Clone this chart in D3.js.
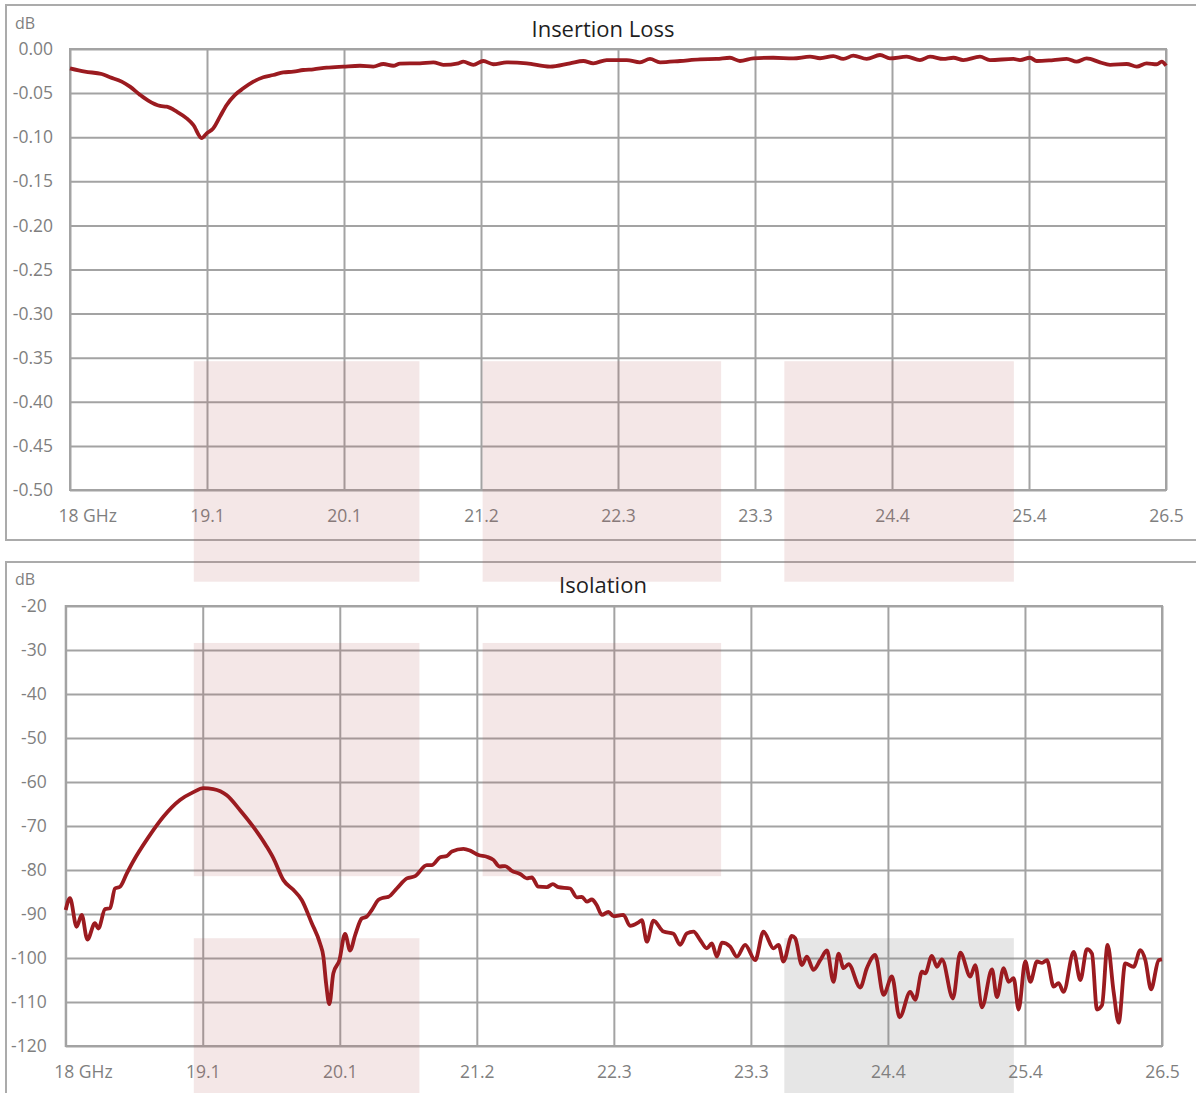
<!DOCTYPE html>
<html>
<head>
<meta charset="utf-8">
<script src="https://cdn.jsdelivr.net/npm/d3@7"></script>
<style>
  body { margin: 0; background: #fff; }
  svg { display: block; font-family: "Open Sans", sans-serif; }
</style>
</head>
<body>
<script>
// x ticks are shared by both charts
const xTickLabels = ["18 GHz", "19.1", "20.1", "21.2", "22.3", "23.3", "24.4", "25.4", "26.5"];
const ilTickLabels = ["0.00", "-0.05", "-0.10", "-0.15", "-0.20", "-0.25", "-0.30", "-0.35", "-0.40", "-0.45", "-0.50"];
const isoTickLabels = ["-20", "-30", "-40", "-50", "-60", "-70", "-80", "-90", "-100", "-110", "-120"];

// insertion loss (GHz / dB)
const ilFreq = [18.00, 18.116, 18.246, 18.310, 18.401, 18.465, 18.543, 18.607, 18.698, 18.750,
  18.828, 18.905, 18.956, 19.021, 19.060, 19.111, 19.163, 19.215, 19.280, 19.344,
  19.422, 19.499, 19.577, 19.654, 19.732, 19.809, 19.887, 19.991, 20.120, 20.249,
  20.352, 20.430, 20.507, 20.559, 20.714, 20.818, 20.895, 21.012, 21.050, 21.128,
  21.205, 21.283, 21.387, 21.542, 21.723, 21.878, 21.981, 22.058, 22.162, 22.317,
  22.420, 22.498, 22.576, 22.731, 22.886, 23.015, 23.118, 23.196, 23.299, 23.454,
  23.609, 23.739, 23.817, 23.920, 23.997, 24.075, 24.179, 24.282, 24.359, 24.489,
  24.592, 24.670, 24.773, 24.851, 24.928, 25.057, 25.135, 25.316, 25.368, 25.445,
  25.497, 25.626, 25.730, 25.807, 25.885, 25.988, 26.066, 26.195, 26.273, 26.350,
  26.428, 26.467, 26.50];
const ilDb = [-0.0219, -0.0257, -0.0283, -0.032, -0.037, -0.0427, -0.052, -0.0586, -0.0646, -0.0654,
  -0.071, -0.0786, -0.086, -0.101, -0.0956, -0.090, -0.0767, -0.0635, -0.052, -0.0446,
  -0.037, -0.032, -0.0295, -0.0265, -0.0257, -0.0238, -0.023, -0.0212, -0.020, -0.019,
  -0.020, -0.017, -0.019, -0.0166, -0.0162, -0.0151, -0.018, -0.0162, -0.0144, -0.018,
  -0.0136, -0.0173, -0.0151, -0.0162, -0.020, -0.0162, -0.0136, -0.0162, -0.0125, -0.0125,
  -0.0151, -0.0113, -0.0151, -0.0136, -0.0117, -0.0113, -0.0099, -0.0136, -0.0106, -0.0099,
  -0.0106, -0.0087, -0.0105, -0.008, -0.0113, -0.0076, -0.0113, -0.0068, -0.0106, -0.0087,
  -0.0125, -0.0087, -0.0113, -0.0099, -0.0125, -0.0087, -0.0125, -0.0113, -0.0125, -0.0099,
  -0.0136, -0.0125, -0.0113, -0.0144, -0.0106, -0.0151, -0.018, -0.017, -0.020, -0.0162,
  -0.0173, -0.0144, -0.019];

// isolation (GHz / dB)
const isoFreq = [18.000, 18.033, 18.085, 18.124, 18.168, 18.227, 18.253, 18.305, 18.344, 18.382,
  18.421, 18.473, 18.524, 18.638, 18.757, 18.886, 18.990, 19.067, 19.145, 19.249,
  19.352, 19.455, 19.559, 19.610, 19.688, 19.765, 19.830, 19.908, 19.972, 19.998,
  20.019, 20.044, 20.075, 20.122, 20.166, 20.205, 20.244, 20.296, 20.334, 20.373,
  20.424, 20.463, 20.502, 20.567, 20.645, 20.709, 20.800, 20.838, 20.903, 20.955,
  20.994, 21.084, 21.136, 21.200, 21.265, 21.316, 21.363, 21.407, 21.459, 21.523,
  21.575, 21.614, 21.665, 21.730, 21.777, 21.820, 21.911, 21.963, 22.002, 22.041,
  22.079, 22.118, 22.157, 22.208, 22.247, 22.324, 22.376, 22.441, 22.467, 22.506,
  22.557, 22.635, 22.712, 22.764, 22.816, 22.867, 22.919, 22.971, 23.010, 23.049,
  23.088, 23.152, 23.204, 23.268, 23.346, 23.410, 23.488, 23.527, 23.565, 23.630,
  23.656, 23.708, 23.747, 23.798, 23.850, 23.902, 23.953, 23.992, 24.031, 24.070,
  24.160, 24.212, 24.276, 24.341, 24.406, 24.465, 24.548, 24.587, 24.639, 24.664,
  24.716, 24.755, 24.794, 24.879, 24.936, 25.014, 25.052, 25.104, 25.182, 25.220,
  25.272, 25.311, 25.350, 25.388, 25.440, 25.479, 25.531, 25.570, 25.608, 25.660,
  25.698, 25.737, 25.815, 25.867, 25.918, 25.957, 25.996, 26.035, 26.078, 26.125,
  26.164, 26.215, 26.280, 26.332, 26.371, 26.415, 26.474, 26.500];
const isoDb = [-89.1, -86.4, -92.9, -90.2, -95.8, -92.1, -93.3, -88.9, -88.7, -84.2,
  -83.8, -80.8, -78.0, -72.7, -67.9, -64.1, -62.3, -61.4, -61.6, -63.0,
  -66.4, -70.2, -74.7, -77.3, -82.3, -84.5, -86.8, -92.1, -96.7, -99.7,
  -105.8, -110.5, -103.5, -100.5, -94.5, -98.3, -94.8, -91.0, -90.6, -89.1,
  -86.8, -86.3, -86.1, -84.2, -81.9, -81.4, -78.9, -78.9, -77.1, -76.8,
  -75.8, -75.2, -75.6, -76.6, -77.0, -77.7, -79.2, -79.1, -80.2, -80.9,
  -81.9, -81.7, -83.8, -83.9, -83.2, -83.9, -84.2, -86.2, -86.1, -87.2,
  -86.7, -88.0, -90.2, -89.5, -90.5, -90.2, -92.7, -91.9, -91.4, -96.3,
  -91.5, -94.0, -94.5, -97.0, -94.4, -94.0, -95.9, -97.8, -96.7, -99.7,
  -96.5, -97.4, -99.7, -97.0, -100.5, -94.0, -97.8, -97.0, -100.8, -95.0,
  -95.5, -101.6, -99.7, -102.7, -100.5, -98.3, -105.4, -99.0, -102.3, -101.4,
  -106.7, -102.3, -99.3, -108.4, -104.2, -113.5, -107.7, -109.5, -103.1, -103.5,
  -99.5, -102.0, -100.3, -109.2, -98.8, -104.2, -101.6, -111.2, -102.6, -108.9,
  -102.3, -105.4, -104.6, -111.7, -100.8, -105.4, -100.8, -101.1, -100.5, -106.5,
  -105.7, -107.7, -98.6, -105.0, -98.0, -99.0, -111.7, -110.7, -97.0, -107.7,
  -114.7, -101.2, -102.0, -98.2, -100.5, -107.1, -100.5, -100.3];

// highlighted bands: [fromGHz, toGHz, top dB, bottom dB, colour]
const ilBands = [[18.96, 20.71, -0.354, -0.604, "pink"], [21.20, 23.05, -0.354, -0.604, "pink"], [23.54, 25.32, -0.354, -0.604, "pink"]];
const isoBands = [[18.96, 20.71, -28.4, -81.4, "pink"], [21.20, 23.05, -28.4, -81.4, "pink"],
  [18.96, 20.71, -95.5, -132, "pink"], [23.54, 25.32, -95.5, -132, "grey"]];

const W = 1196, H = 1093;
const svg = d3.select("body").append("svg").attr("width", W).attr("height", H);

const gridColor = "#a3a3a3";
const textGrey = "#7f7f7f";
const lineColor = "#9b1b20";

const xTickVals = xTickLabels.map((d, i) => 18 + i * 8.5 / 8);

function drawPanel(cfg) {
  // outer box
  svg.append("rect")
    .attr("x", cfg.box[0]).attr("y", cfg.box[1])
    .attr("width", cfg.box[2]).attr("height", cfg.box[3])
    .attr("fill", "none").attr("stroke", "#ababab").attr("stroke-width", 2);

  const x = d3.scaleLinear().domain([18, 26.5]).range([cfg.left, cfg.right]);
  const y = d3.scaleLinear().domain(cfg.yDomain).range([cfg.bottom, cfg.top]);
  const yTickVals = cfg.yLabels.map((d, i) => cfg.yDomain[1] - i * (cfg.yDomain[1] - cfg.yDomain[0]) / (cfg.yLabels.length - 1));

  const gx = svg.append("g")
    .attr("transform", "translate(0," + cfg.bottom + ")")
    .call(d3.axisBottom(x).tickValues(xTickVals)
      .tickSize(-(cfg.bottom - cfg.top)).tickPadding(19)
      .tickFormat((d, i) => xTickLabels[i]));
  const gy = svg.append("g")
    .attr("transform", "translate(" + cfg.left + ",0)")
    .call(d3.axisLeft(y).tickValues(yTickVals)
      .tickSize(-(cfg.right - cfg.left)).tickPadding(cfg.yPad)
      .tickFormat((d, i) => cfg.yLabels[i]));

  [gx, gy].forEach(g => {
    g.select(".domain").remove();
    g.selectAll("line").attr("stroke", gridColor).attr("stroke-width", 2);
    g.selectAll("text").attr("fill", textGrey).style("font-size", "17.5px")
      .style("font-family", "'Open Sans', sans-serif");
  });
  gx.selectAll("text").attr("dy", "0.76em");
  gx.selectAll("text").filter((d, i) => i === 0).attr("text-anchor", "start").attr("dx", -12);

  svg.append("rect")
    .attr("x", cfg.left).attr("y", cfg.top)
    .attr("width", cfg.right - cfg.left).attr("height", cfg.bottom - cfg.top)
    .attr("fill", "none").attr("stroke", gridColor).attr("stroke-width", 2);

  svg.append("text")
    .attr("x", 15).attr("y", cfg.dbY)
    .attr("fill", textGrey).style("font-size", "16px")
    .text("dB");

  svg.append("text")
    .attr("x", 603).attr("y", cfg.titleY)
    .attr("text-anchor", "middle").attr("fill", "#1f1f1f")
    .style("font-size", "22px")
    .text(cfg.title);

  return {x: x, y: y};
}

const ilChart = drawPanel({
  box: [6, 5, 1200, 535], left: 70, right: 1166, top: 49, bottom: 490,
  yDomain: [-0.5, 0], yLabels: ilTickLabels, yPad: 17,
  dbY: 29, titleY: 37, title: "Insertion Loss"
});
const isoChart = drawPanel({
  box: [6, 562, 1200, 560], left: 65.7, right: 1162, top: 606, bottom: 1046,
  yDomain: [-120, -20], yLabels: isoTickLabels, yPad: 19,
  dbY: 585, titleY: 593, title: "Isolation"
});

// overlay bands (page-wide, aligned to the upper chart's frequency axis)
function drawBands(bands, yScale) {
  svg.append("g").selectAll("rect")
    .data(bands)
    .enter().append("rect")
    .attr("x", d => ilChart.x(d[0]))
    .attr("width", d => ilChart.x(d[1]) - ilChart.x(d[0]))
    .attr("y", d => yScale(d[2]))
    .attr("height", d => yScale(d[3]) - yScale(d[2]))
    .attr("fill", d => d[4] === "pink" ? "#b85c5c" : "#808080")
    .attr("fill-opacity", d => d[4] === "pink" ? 0.15 : 0.2);
}
drawBands(ilBands, ilChart.y);
drawBands(isoBands, isoChart.y);

// curves
const ilData = ilFreq.map((f, i) => [f, ilDb[i]]);
const isoData = isoFreq.map((f, i) => [f, isoDb[i]]);

svg.append("path")
  .datum(ilData)
  .attr("fill", "none").attr("stroke", lineColor).attr("stroke-width", 3.8)
  .attr("stroke-linejoin", "round")
  .attr("d", d3.line().x(d => ilChart.x(d[0])).y(d => ilChart.y(d[1])).curve(d3.curveMonotoneX));

svg.append("path")
  .datum(isoData)
  .attr("fill", "none").attr("stroke", lineColor).attr("stroke-width", 3.8)
  .attr("stroke-linejoin", "round")
  .attr("d", d3.line().x(d => isoChart.x(d[0])).y(d => isoChart.y(d[1])).curve(d3.curveMonotoneX));
</script>
</body>
</html>
